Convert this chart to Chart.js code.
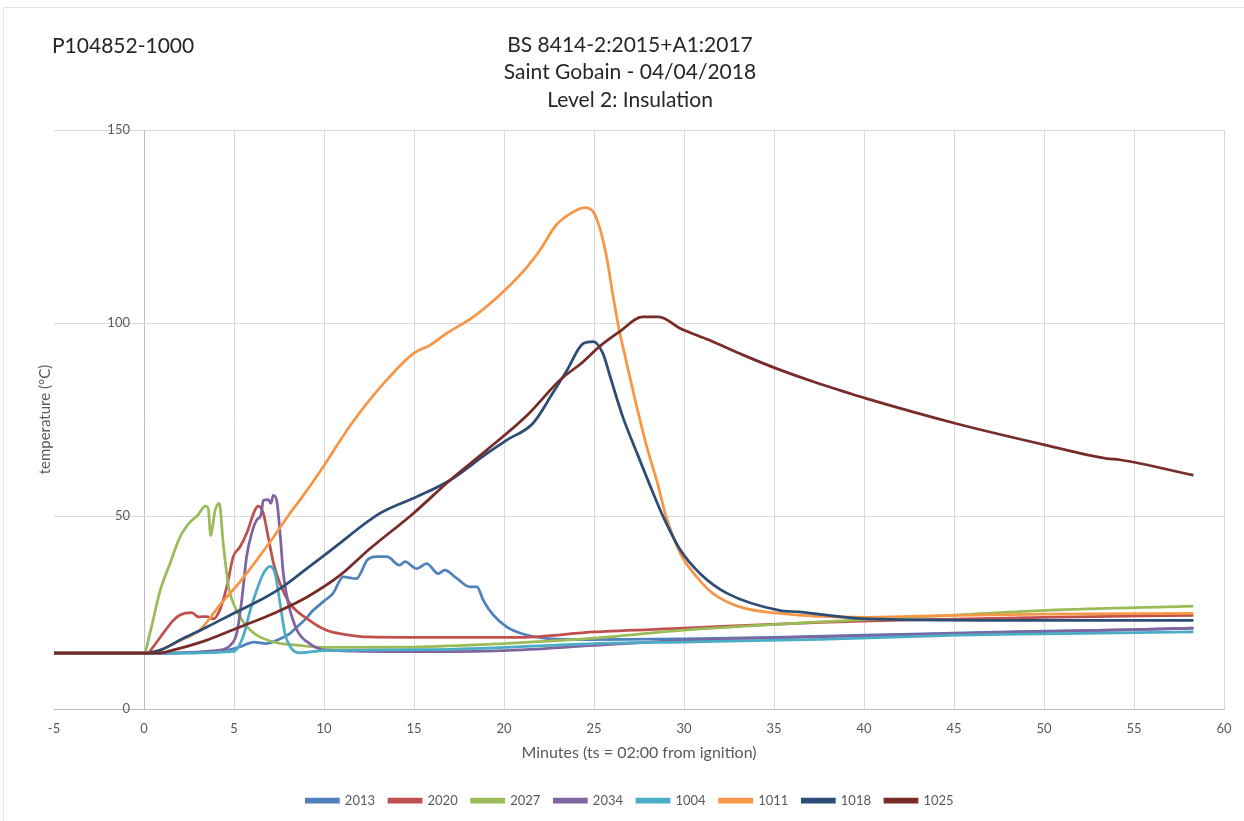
<!DOCTYPE html>
<html>
<head>
<meta charset="utf-8">
<script src="https://cdn.jsdelivr.net/npm/chart.js@4.4.1/dist/chart.umd.min.js"></script>
<style>
  body { margin: 0; background: #fff; overflow: hidden; }
  #wrap { position: relative; width: 1244px; height: 821px; }
  #frame { position: absolute; left: 3px; top: 7px; right: 0; bottom: 0; border-left: 1px solid #e6e6e6; border-top: 1px solid #e6e6e6; pointer-events: none; }
  #ref { position: absolute; left: 52px; top: 32px; font: 21px Lato, sans-serif; color: #262626; }
</style>
</head>
<body>
<div id="wrap">
  <canvas id="chart"></canvas>
  <div id="frame"></div>
  <div id="ref">P104852-1000</div>
</div>
<script>
// Series labels and colours (legend order)
const seriesNames = ['2013', '2020', '2027', '2034', '1004', '1011', '1018', '1025'];
const seriesColors = ['#4F81BD', '#C0504D', '#9BBB59', '#8064A2', '#4BACC6', '#F79646', '#2C4D75', '#772C2A'];

// Minutes / temperature, one pair of arrays per thermocouple
const t2013 = [-5, 0, 4, 5.3, 6.1, 6.8, 7.6, 8.1, 8.5, 8.9, 9.4, 10, 10.5, 11.07, 11.8, 12.4, 12.9, 13.5, 14.2, 14.5, 15.15, 15.7, 16.35, 16.7, 17.4, 18.1, 18.5, 18.85, 19.4, 20.15, 21.1, 22.4, 25, 30, 35, 40, 45, 50, 55, 58.3];
const v2013 = [14.5, 14.5, 14.8, 16.1, 17.4, 17, 18.3, 19.6, 21.3, 23, 25.6, 28, 30, 34.3, 33.8, 38.6, 39.5, 39.5, 37.3, 38.2, 36.4, 37.7, 35.1, 36, 33.8, 31.7, 31.7, 28.2, 24.4, 21.3, 19.4, 18.3, 18, 18.2, 18.6, 19.2, 19.7, 20.2, 20.6, 21];

const t2020 = [-5, 0.2, 0.5, 1.07, 1.63, 2, 2.65, 3.02, 3.48, 3.85, 4.2, 4.6, 4.96, 5.33, 5.7, 6.17, 6.35, 6.63, 6.9, 7.2, 7.55, 8.1, 9.04, 10.1, 11.4, 12.4, 15, 20.9, 25, 30, 37.6, 41.4, 50, 58.3];
const v2020 = [14.5, 14.5, 16.1, 19.7, 23, 24.4, 25, 23.9, 24, 23.4, 25.6, 31.7, 39.5, 42, 45.5, 51.6, 52.6, 50.7, 44.6, 37.7, 32.6, 27.4, 23.5, 20.5, 19.2, 18.7, 18.6, 18.6, 20, 21, 22.5, 23, 23.8, 24.3];

const t2027 = [-5, 0, 0.33, 0.9, 1.45, 2, 2.55, 3, 3.4, 3.57, 3.7, 3.95, 4.18, 4.4, 4.7, 5.15, 5.9, 7.2, 8.5, 10, 15, 20, 25, 30, 37.6, 45.3, 50.1, 58.3];
const v2027 = [14.5, 14.5, 19.7, 30.8, 37.8, 44.6, 48.4, 50.3, 52.6, 52, 45, 51.5, 53.3, 43, 31.7, 25.6, 20.5, 17.4, 16.6, 16, 16.1, 17, 18.4, 20.5, 22.6, 24.4, 25.6, 26.7];

const t2034 = [-5, 0, 4.2, 4.8, 5.15, 5.43, 5.7, 5.98, 6.26, 6.5, 6.63, 6.9, 7.05, 7.18, 7.37, 7.56, 7.74, 8.02, 8.5, 9.2, 10.15, 15, 20, 25, 30, 35, 40, 45, 50, 55, 58.3];
const v2034 = [14.5, 14.5, 15.3, 16.6, 19.6, 28.2, 39.5, 45.5, 49, 50.3, 54.1, 54.3, 53.3, 55.4, 54.1, 45.5, 35.1, 27.4, 20.5, 17, 15.3, 14.9, 15.2, 16.5, 17.8, 18.5, 19, 19.6, 20.1, 20.6, 21];

const t1004 = [-5, 0, 4.96, 5.5, 5.9, 6.26, 6.63, 7, 7.28, 7.56, 7.83, 8.2, 8.67, 10, 15.3, 20, 25, 30, 37.6, 45.3, 50, 58.3];
const v1004 = [14.5, 14.5, 14.9, 18.7, 25.6, 30.8, 35.1, 37, 35.1, 27.4, 19.6, 15.7, 14.6, 15.2, 15.4, 16, 17, 17.4, 18.1, 19.2, 19.5, 20];

const t1011 = [-5, 0, 1, 2, 3.1, 4.2, 5.33, 6.26, 7.2, 8.1, 8.67, 9.96, 11.4, 13.3, 14.96, 15.9, 16.8, 18.3, 19.96, 21.3, 22, 22.9, 23.85, 24.5, 24.96, 25.3, 25.7, 26.07, 26.4, 26.7, 27.2, 27.9, 28.5, 29, 29.8, 30.7, 31.6, 33.1, 35.3, 40, 45, 50, 58.3];
const v1011 = [14.5, 14.5, 15.5, 17.8, 20.5, 26.9, 33, 38.6, 44.6, 50.7, 54.2, 62.8, 73.1, 84.3, 92.1, 94.3, 97.3, 101.6, 108.1, 114.6, 118.9, 125.4, 128.8, 129.9, 128.8, 124.9, 117.1, 106.7, 98.2, 92, 81.8, 68.5, 59, 50, 40.3, 34.3, 30, 26.5, 24.8, 23.8, 24.3, 24.6, 24.8];

const t1018 = [-5, 0, 0.9, 2, 3.5, 4.96, 6.44, 7.7, 9.04, 10.5, 13.1, 15.15, 17, 19.04, 20.15, 21.6, 22.7, 23.5, 24.4, 24.96, 25.5, 25.9, 26.6, 27.4, 28.3, 28.85, 29.8, 30.9, 32.4, 35.3, 36.4, 40.1, 50, 58.3];
const v1018 = [14.5, 14.5, 15.3, 17.9, 21.3, 24.8, 28.2, 31.7, 36.4, 41.6, 50.7, 55, 59.3, 66.2, 69.7, 74, 81.8, 87.8, 94.7, 95.2, 92.1, 86.1, 75.7, 66.2, 55.8, 49.8, 41.2, 35.1, 30, 25.6, 25.2, 23.4, 23, 23];

const t1025 = [-5, 0.8, 1.6, 3.5, 5.33, 7.2, 9.04, 10.9, 12.56, 14.96, 17, 19.04, 21.3, 23.1, 24.4, 25.3, 26.4, 27.7, 28.6, 29.8, 31.4, 33.3, 35.15, 37.2, 39.2, 40.1, 45.1, 50.1, 53.5, 54.2, 58.3];
const v1025 = [14.5, 14.5, 15.3, 17.9, 21.3, 24.8, 29, 34.7, 41.6, 50.7, 59.3, 67.1, 76.2, 85.2, 90, 93.9, 97.7, 101.6, 101.6, 98.6, 95.6, 91.7, 88.2, 84.8, 81.8, 80.5, 74, 68.4, 64.9, 64.6, 60.6];

// Axis ticks
const xTicks = [-5, 0, 5, 10, 15, 20, 25, 30, 35, 40, 45, 50, 55, 60];
const yTicks = [0, 50, 100, 150];

const seriesTimes = [t2013, t2020, t2027, t2034, t1004, t1011, t1018, t1025];
const seriesValues = [v2013, v2020, v2027, v2034, v1004, v1011, v1018, v1025];

const FONT = 'Lato, sans-serif';
const GREY = '#595959';

const datasets = seriesNames.map((name, i) => ({
  label: name,
  data: seriesTimes[i].map((t, j) => ({ x: t, y: seriesValues[i][j] })),
  borderColor: seriesColors[i],
  backgroundColor: seriesColors[i],
  borderWidth: 2.75,
  pointRadius: 0,
  cubicInterpolationMode: 'monotone',
  order: -i // later series drawn on top, like Excel
}));

new Chart(document.getElementById('chart'), {
  type: 'line',
  data: { datasets: datasets },
  options: {
    responsive: true,
    maintainAspectRatio: false,
    animation: false,
    layout: { padding: { left: 36, right: 20, top: 0, bottom: 4 } },
    plugins: {
      title: {
        display: true,
        text: ['BS 8414-2:2015+A1:2017', 'Saint Gobain - 04/04/2018', 'Level 2: Insulation'],
        color: '#262626',
        font: { family: FONT, size: 21, weight: 'normal', lineHeight: 1.3 },
        padding: { top: 31.5, bottom: 16.6 }
      },
      legend: {
        position: 'bottom',
        labels: {
          boxWidth: 32,
          boxHeight: 3,
          padding: 14,
          color: GREY,
          font: { family: FONT, size: 13 },
          sort: (a, b) => a.datasetIndex - b.datasetIndex
        }
      },
      tooltip: { enabled: false }
    },
    scales: {
      x: {
        type: 'linear',
        min: -5,
        max: 60,
        afterBuildTicks: (axis) => { axis.ticks = xTicks.map(v => ({ value: v })); },
        ticks: { color: GREY, font: { family: FONT, size: 13 }, padding: 12, maxRotation: 0 },
        grid: {
          color: (ctx) => {
            if (!ctx.tick) return '#d9d9d9';
            if (ctx.tick.value === -5) return 'rgba(0,0,0,0)';
            return ctx.tick.value === 0 ? '#bfbfbf' : '#d9d9d9';
          },
          drawTicks: false
        },
        border: { color: '#bfbfbf' },
        title: {
          display: true,
          text: 'Minutes (ts = 02:00 from ignition)',
          color: GREY,
          font: { family: FONT, size: 16 },
          padding: { top: -6, bottom: 18 }
        }
      },
      y: {
        type: 'linear',
        position: { x: -0.78 },
        min: 0,
        max: 150,
        afterBuildTicks: (axis) => { axis.ticks = yTicks.map(v => ({ value: v })); },
        ticks: { color: GREY, font: { family: FONT, size: 13 } },
        grid: { color: '#d9d9d9', drawTicks: false },
        border: { display: false }
      },
      yTitle: {
        type: 'linear',
        position: 'left',
        min: 0,
        max: 150,
        ticks: { display: false },
        grid: { display: false, drawTicks: false },
        border: { display: false },
        title: {
          display: true,
          text: 'temperature (°C)',
          color: GREY,
          font: { family: FONT, size: 15 },
          padding: { top: 0, bottom: 0 }
        }
      }
    }
  }
});
</script>
</body>
</html>
